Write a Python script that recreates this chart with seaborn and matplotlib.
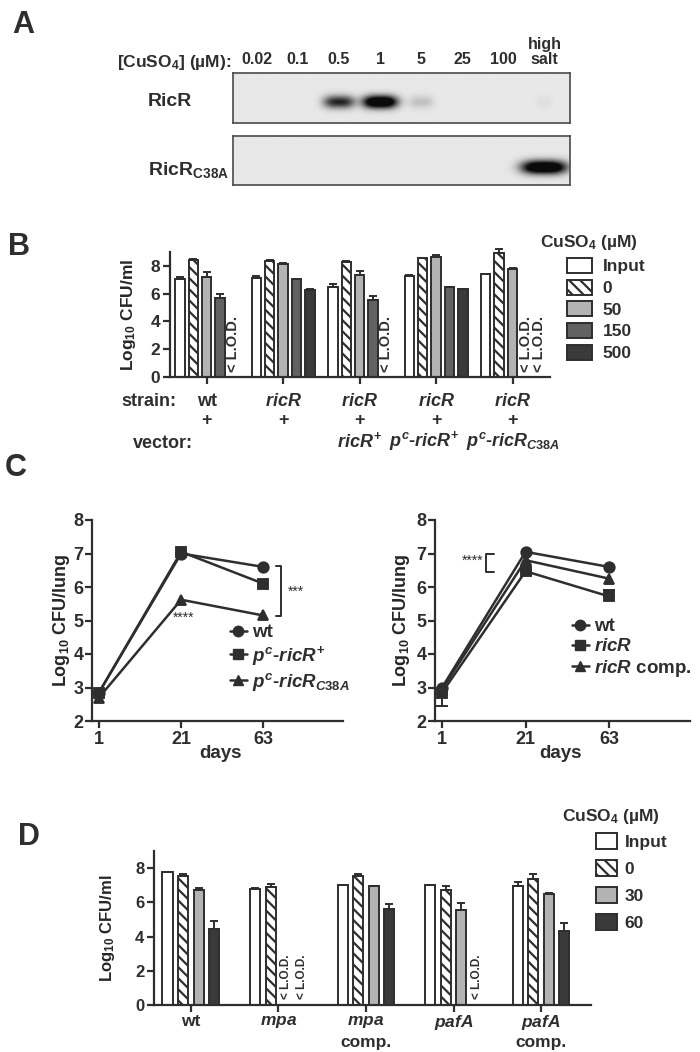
import numpy as np
import pandas as pd
import matplotlib
matplotlib.use('Agg')
import matplotlib.pyplot as plt
import matplotlib.transforms as mtrans
import seaborn as sns
from matplotlib.patches import Patch
from matplotlib.lines import Line2D

# ---------- data ----------
# A: western blot, band strength per lane (0..1)
blot_lanes = ['0.02', '0.1', '0.5', '1', '5', '25', '100', 'high\nsalt']
ricr_bands = [0, 0, 0.6, 1.0, 0.12, 0, 0, 0.03]
c38a_bands = [0, 0, 0, 0, 0, 0, 0, 1.0]

# B: CFU after copper, per strain/vector group (nan = below L.O.D.)
b_groups = ['wt', 'ricR', 'ricR/ricR+', 'ricR/pc-ricR+', 'ricR/pc-ricRC38A']
b_conc = ['Input', '0', '50', '150', '500']
b_input = [7.06, 7.11, 6.47, 7.28, 7.40]
b_0 = [8.42, 8.38, 8.31, 8.54, 8.90]
b_50 = [7.18, 8.14, 7.35, 8.66, 7.80]
b_150 = [5.68, 7.06, 5.56, 6.47, np.nan]
b_500 = [np.nan, 6.28, np.nan, 6.35, np.nan]
b_input_err = [0.15, 0.18, 0.2, 0.05, 0.05]
b_0_err = [0.05, 0.03, 0.03, 0.05, 0.28]
b_50_err = [0.36, 0.08, 0.28, 0.1, 0.06]
b_150_err = [0.3, 0.03, 0.24, 0.02, np.nan]
b_500_err = [np.nan, 0.03, np.nan, 0.02, np.nan]
b_strain = ['wt', '$ricR$', '$ricR$', '$ricR$', '$ricR$']
b_vector = ['', '', '$ricR^{+}$', '$p^{c}$-$ricR^{+}$', '$p^{c}$-$ricR_{C38A}$']

# C: mouse lung CFU
days = ['1', '21', '63']
c1_names = ['wt', '$p^{c}$-$ricR^{+}$', '$p^{c}$-$ricR_{C38A}$']
c1_wt = [2.85, 7.0, 6.6]
c1_pc = [2.85, 7.05, 6.1]
c1_c38a = [2.7, 5.62, 5.15]
c2_names = ['wt', '$ricR$', '$ricR$ comp.']
c2_wt = [3.0, 7.05, 6.6]
c2_ricr = [2.85, 6.47, 5.72]
c2_comp = [2.95, 6.8, 6.25]
c2_ricr_err_lo = [0.4, 0, 0]
c2_ricr_err_hi = [0, 0.05, 0.2]

# D: pup mutants
d_groups = ['wt', '$mpa$', '$mpa$', '$pafA$', '$pafA$']
d_sub = ['', '', 'comp.', '', 'comp.']
d_conc = ['Input', '0', '30', '60']
d_input = [7.75, 6.79, 7.0, 6.99, 6.96]
d_0 = [7.51, 6.89, 7.51, 6.73, 7.37]
d_30 = [6.73, np.nan, 6.93, 5.56, 6.49]
d_60 = [4.43, np.nan, 5.6, np.nan, 4.33]
d_input_err = [0.02, 0.05, 0.02, 0.02, 0.25]
d_0_err = [0.14, 0.17, 0.16, 0.25, 0.29]
d_30_err = [0.1, np.nan, 0.05, 0.43, 0.03]
d_60_err = [0.45, np.nan, 0.3, np.nan, 0.45]

# ---------- style ----------
INK = '#2e2e2e'
W, H = 700, 1052
sns.set_theme(style='ticks')
plt.rcParams['font.family'] = ['Liberation Sans', 'DejaVu Sans']
plt.rcParams['font.weight'] = 'bold'
plt.rcParams['mathtext.fontset'] = 'custom'
plt.rcParams['mathtext.rm'] = 'Liberation Sans:bold'
plt.rcParams['mathtext.it'] = 'Liberation Sans:italic:bold'
plt.rcParams['mathtext.bf'] = 'Liberation Sans:bold'
plt.rcParams['text.color'] = INK
plt.rcParams['hatch.linewidth'] = 1.6
plt.rcParams['hatch.color'] = INK

fig = plt.figure(figsize=(W / 100, H / 100), dpi=100)


def px_rect(l, t, r, b):
    return [l / W, 1 - b / H, (r - l) / W, (b - t) / H]


def fy(ypx):
    return 1 - ypx / H


def style_axis(ax, fs):
    sns.despine(ax=ax)
    for s in ['left', 'bottom']:
        ax.spines[s].set_linewidth(1.6)
        ax.spines[s].set_color(INK)
    ax.tick_params(width=1.6, length=5, color=INK, labelsize=fs, labelcolor=INK, pad=2)
    for lab in ax.get_yticklabels():
        lab.set_fontweight('bold')


# ---------- A ----------
def blot(ax, bands, yc, ys, widths):
    x0, x1 = -0.58, 7.62
    X, Y = np.meshgrid(np.linspace(x0, x1, 420), np.linspace(0, 1, 70))
    img = np.full(X.shape, 0.91)
    for k, a in enumerate(bands):
        img -= 1.3 * a * np.exp(-np.abs((X - k) / widths[k]) ** 3) * np.exp(-((Y - yc) / ys) ** 2)
    img = np.clip(img, 0.04, 1)
    ax.imshow(img, cmap='gray', vmin=0, vmax=1, extent=(x0, x1, 0, 1), origin='lower',
              aspect='auto', interpolation='bilinear')
    ax.set_xlim(x0, x1)
    ax.set_ylim(0, 1)
    ax.set_yticks([])
    for s in ax.spines.values():
        s.set_color('#4a4a4a')
        s.set_linewidth(1.2)


axA1 = fig.add_axes(px_rect(233, 73, 570, 123))
blot(axA1, ricr_bands, 0.42, 0.13, [0.3, 0.33, 0.38, 0.42, 0.3, 0.3, 0.3, 0.2])
axA1.xaxis.tick_top()
axA1.set_xticks(range(len(blot_lanes)))
axA1.set_xticklabels(blot_lanes, fontsize=11.5, fontweight='bold', linespacing=1.05)
axA1.tick_params(axis='x', length=0, pad=4, labelcolor=INK)
axA2 = fig.add_axes(px_rect(233, 136, 570, 185))
blot(axA2, c38a_bands, 0.36, 0.14, [0.3] * 7 + [0.55])
axA2.set_xticks([])

fig.text(12 / W, fy(25), 'A', fontsize=22, fontweight='bold', va='center')
fig.text(231 / W, fy(63), '[CuSO$_{\\mathrm{4}}$] (µM):', fontsize=12.5, ha='right', va='center')
fig.text(148 / W, fy(101), 'RicR', fontsize=14, va='center')
fig.text(148 / W, fy(170), 'RicR$_{\\mathrm{C38A}}$', fontsize=14, va='center')

# ---------- B ----------
b_colors = {'Input': 'white', '0': 'white', '50': '#b3b3b3', '150': '#626262', '500': '#3a3a3a'}
b_vals = [b_input, b_0, b_50, b_150, b_500]
b_errs = [b_input_err, b_0_err, b_50_err, b_150_err, b_500_err]
b_df = pd.DataFrame({'group': np.tile(b_groups, len(b_conc)),
                     'conc': np.repeat(b_conc, len(b_groups)),
                     'cfu': np.concatenate(b_vals)})
b_width = 0.875

axB = fig.add_axes(px_rect(170, 252, 550, 377))
sns.barplot(data=b_df, x='group', y='cfu', hue='conc', order=b_groups, hue_order=b_conc,
            palette=b_colors, width=b_width, gap=0.3, edgecolor=INK, linewidth=1.4,
            errorbar=None, legend=False, ax=axB)


def finish_bars(ax, vals, errs, width, n, lod_size):
    bar_sets = list(ax.containers)
    for k, cont in enumerate(bar_sets):
        for bar in cont:
            if k == 1:
                bar.set_hatch('\\\\\\')
            cx = bar.get_x() + bar.get_width() / 2
            g = int(round(cx))
            e = errs[k][g]
            if not np.isnan(e):
                ax.errorbar(cx, bar.get_height(), yerr=[[0], [e]], fmt='none', ecolor=INK,
                            elinewidth=1.4, capsize=3, capthick=1.4, clip_on=False, zorder=3)
    slot = width / n
    for k in range(n):
        for g, v in enumerate(vals[k]):
            if np.isnan(v):
                ax.text(g + (k - (n - 1) / 2) * slot, 0.35, '< L.O.D.', rotation=90,
                        ha='center', va='bottom', fontsize=lod_size, fontweight='bold')


finish_bars(axB, b_vals, b_errs, b_width, len(b_conc), 10.5)
axB.set_ylim(0, 9)
axB.set_xlim(-0.48, 4.49)
axB.set_yticks(range(0, 9, 2))
axB.set_xticks(range(len(b_groups)))
axB.set_xticklabels([])
axB.set_xlabel('')
axB.set_ylabel('Log$_{\\mathrm{10}}$ CFU/ml', fontsize=12.5, fontweight='bold')
axB.yaxis.set_label_coords(-0.085, 0.5)
style_axis(axB, 12.5)

tB = mtrans.blended_transform_factory(axB.transData, fig.transFigure)
for g in range(len(b_groups)):
    axB.text(g, fy(402), b_strain[g], transform=tB, ha='center', va='center', fontsize=13)
    axB.text(g, fy(420), '+', transform=tB, ha='center', va='center', fontsize=13)
    axB.text(g - (0.15 if g == 3 else 0), fy(441), b_vector[g], transform=tB,
             ha='center', va='center', fontsize=13)
fig.text(176 / W, fy(402), 'strain:', fontsize=13, ha='right', va='center')
fig.text(193 / W, fy(444), 'vector:', fontsize=13, ha='right', va='center')
fig.text(8 / W, fy(247), 'B', fontsize=22, fontweight='bold', va='center')

fig.text(540 / W, fy(243), 'CuSO$_{\\mathrm{4}}$ (µM)', fontsize=12.5, va='center')
b_handles = [Patch(facecolor=b_colors[c], edgecolor=INK, linewidth=1.4,
                   hatch='\\\\\\' if c == '0' else None) for c in b_conc]
axB.legend(b_handles, b_conc, loc='upper left', bbox_to_anchor=(567 / W, fy(258)),
           bbox_transform=fig.transFigure, frameon=False, fontsize=12.5, handlelength=1.45,
           handleheight=0.95, handletextpad=0.6, labelspacing=0.3, borderpad=0, borderaxespad=0)


# ---------- C ----------
def lung_panel(rect, names, series, err_idx, errs, legend_top, legend_x, ylab_x):
    ax = fig.add_axes(px_rect(*rect))
    df = pd.DataFrame({'day': np.tile(days, len(names)),
                       'strain': np.repeat(names, len(days)),
                       'cfu': np.concatenate(series)})
    sns.pointplot(data=df, x='day', y='cfu', hue='strain', order=days, hue_order=names,
                  markers=['o', 's', '^'], linestyles='-', palette=[INK] * 3,
                  errorbar=None, markersize=7.5, linewidth=1.8, legend=False, ax=ax)
    if err_idx is not None:
        ax.errorbar(range(len(days)), series[err_idx], yerr=errs, fmt='none', ecolor=INK,
                    elinewidth=1.4, capsize=4, capthick=1.4, zorder=1)
    ax.set_xlim(-0.085, 2.97)
    ax.set_ylim(2, 8)
    ax.set_yticks(range(2, 9))
    ax.set_xlabel('')
    ax.set_ylabel('Log$_{\\mathrm{10}}$ CFU/lung', fontsize=13, fontweight='bold')
    ax.yaxis.set_label_coords(ylab_x, 0.5)
    style_axis(ax, 13)
    ax.tick_params(axis='y', pad=1)
    for lab in ax.get_xticklabels():
        lab.set_fontweight('bold')
    handles = [Line2D([0], [0], color=INK, lw=1.8, marker=m, markersize=7.5)
               for m in ['o', 's', '^']]
    ax.legend(handles, names, loc='upper left', bbox_to_anchor=(legend_x / W, fy(legend_top)),
              bbox_transform=fig.transFigure, frameon=False, fontsize=13.5, handlelength=0.9,
              handletextpad=0.25, labelspacing=0.15, borderpad=0, borderaxespad=0)
    return ax


axC1 = lung_panel((92, 520, 343, 721), c1_names, [c1_wt, c1_pc, c1_c38a], None, None,
                  624, 230, -0.08)
axC1.plot([2.15, 2.22, 2.22, 2.15], [6.62, 6.62, 5.12, 5.12], color=INK, lw=1.4)
axC1.text(2.3, 5.87, '***', fontsize=10, fontweight='normal', va='center')
axC1.text(1.03, 5.08, '****', fontsize=10, fontweight='normal', ha='center', va='center')

axC2 = lung_panel((435, 520, 690, 721), c2_names, [c2_wt, c2_ricr, c2_comp], 1,
                  [c2_ricr_err_lo, c2_ricr_err_hi], 618, 572, -0.09)
axC2.plot([0.62, 0.53, 0.53, 0.62], [7.0, 7.0, 6.45, 6.45], color=INK, lw=1.4)
axC2.text(0.49, 6.78, '****', fontsize=10, fontweight='normal', ha='right', va='center')

fig.text(220 / W, fy(753), 'days', fontsize=13.5, ha='center', va='center')
fig.text(561 / W, fy(753), 'days', fontsize=13.5, ha='center', va='center')
fig.text(5 / W, fy(468), 'C', fontsize=22, fontweight='bold', va='center')

# ---------- D ----------
d_colors = {'Input': 'white', '0': 'white', '30': '#b3b3b3', '60': '#3a3a3a'}
d_vals = [d_input, d_0, d_30, d_60]
d_errs = [d_input_err, d_0_err, d_30_err, d_60_err]
d_names = [f'{g}{i}' for i, g in enumerate(d_groups)]
d_df = pd.DataFrame({'group': np.tile(d_names, len(d_conc)),
                     'conc': np.repeat(d_conc, len(d_groups)),
                     'cfu': np.concatenate(d_vals)})
d_width = 0.71

axD = fig.add_axes(px_rect(154, 851, 591, 1005))
sns.barplot(data=d_df, x='group', y='cfu', hue='conc', order=d_names, hue_order=d_conc,
            palette=d_colors, width=d_width, gap=0.35, edgecolor=INK, linewidth=1.4,
            errorbar=None, legend=False, ax=axD)
finish_bars(axD, d_vals, d_errs, d_width, len(d_conc), 8.5)
axD.set_ylim(0, 9)
axD.set_xlim(-0.42, 4.57)
axD.set_yticks(range(0, 9, 2))
axD.set_xticks(range(len(d_groups)))
axD.set_xticklabels([])
axD.set_xlabel('')
axD.set_ylabel('Log$_{\\mathrm{10}}$ CFU/ml', fontsize=12, fontweight='bold')
axD.yaxis.set_label_coords(-0.085, 0.5)
style_axis(axD, 12)

tD = mtrans.blended_transform_factory(axD.transData, fig.transFigure)
for g in range(len(d_groups)):
    axD.text(g, fy(1022), d_groups[g], transform=tD, ha='center', va='center', fontsize=12.5)
    axD.text(g, fy(1042), d_sub[g], transform=tD, ha='center', va='center', fontsize=12.5)
fig.text(18 / W, fy(837), 'D', fontsize=22, fontweight='bold', va='center')

fig.text(562 / W, fy(817), 'CuSO$_{\\mathrm{4}}$ (µM)', fontsize=12.5, va='center')
d_handles = [Patch(facecolor=d_colors[c], edgecolor=INK, linewidth=1.4,
                   hatch='\\\\\\' if c == '0' else None) for c in d_conc]
axD.legend(d_handles, d_conc, loc='upper left', bbox_to_anchor=(596 / W, fy(833)),
           bbox_transform=fig.transFigure, frameon=False, fontsize=12.5, handlelength=1.2,
           handleheight=1.0, handletextpad=0.45, labelspacing=0.6, borderpad=0, borderaxespad=0)

fig.savefig('out.png', dpi=100, facecolor='white')
